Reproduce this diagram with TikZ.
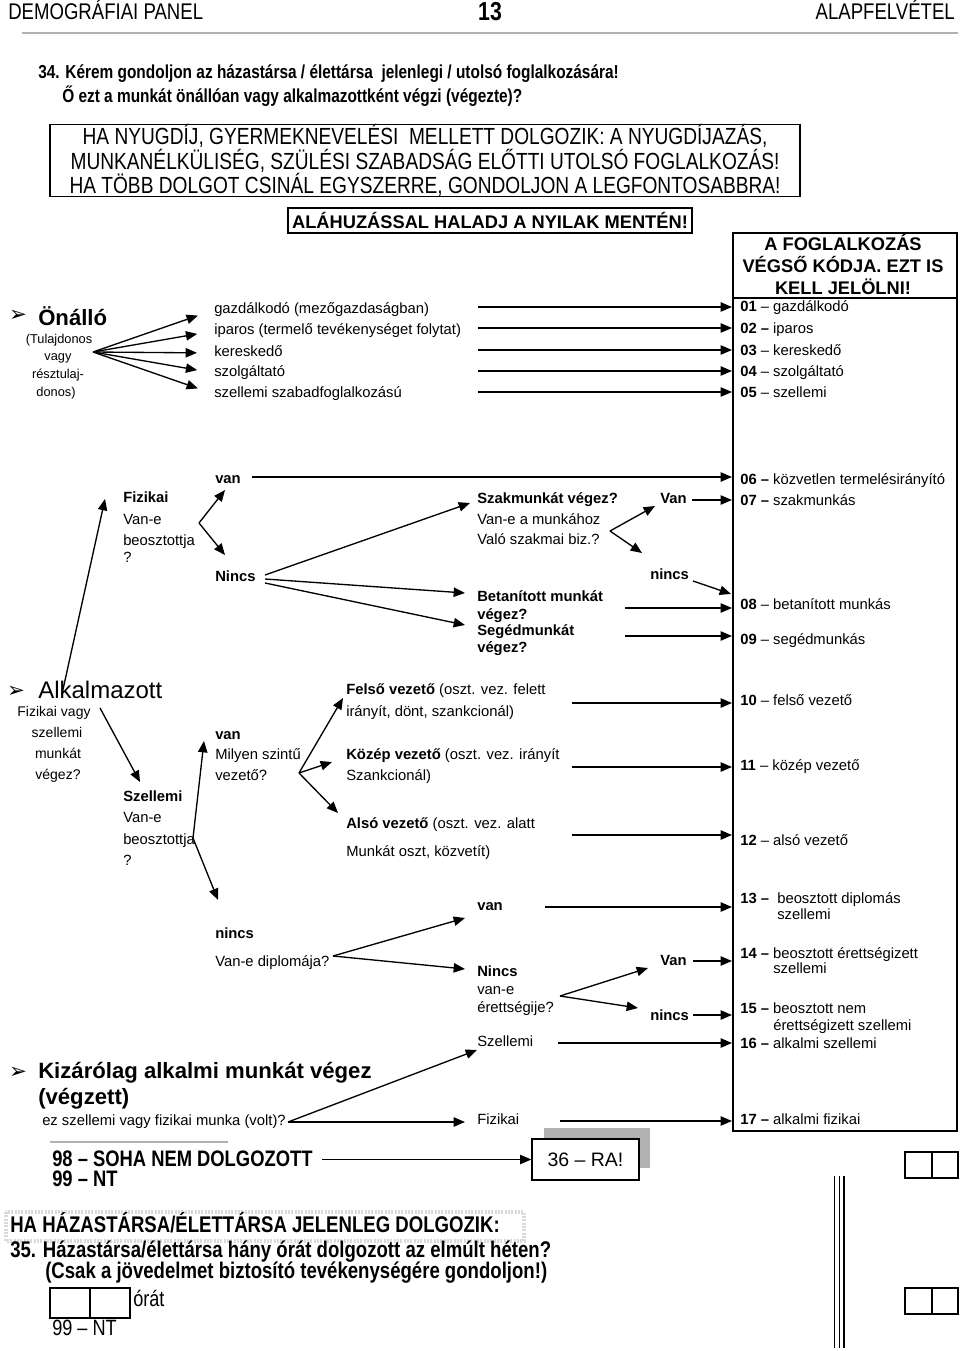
\documentclass[tikz,border=0pt]{standalone}
\usepackage{fontspec}
\setmainfont{Liberation Sans}
\newfontfamily\narrowfont[FakeStretch=0.82]{Liberation Sans}
\newfontfamily\dingfont{DejaVu Sans}
\usetikzlibrary{arrows.meta}
\tikzset{
  txt/.style={inner sep=0pt, anchor=west, text height=8pt, text depth=2.2pt, font=\fontsize{11.1}{13}\selectfont},
  btxt/.style={txt, font=\fontsize{11.1}{13}\selectfont\bfseries},
  subtxt/.style={inner sep=0pt, text height=6.9pt, text depth=1.9pt, font=\fontsize{9.6}{11}\selectfont},
  alktxt/.style={inner sep=0pt, text height=7.6pt, text depth=2.1pt, font=\fontsize{10.5}{12}\selectfont},
  bigb/.style={inner sep=0pt, anchor=west, text height=12pt, text depth=3.3pt, font=\fontsize{16.6}{19}\selectfont\bfseries},
  bullet/.style={inner sep=0pt, font=\dingfont\fontsize{16}{18}\selectfont},
  hdr/.style={inner sep=0pt, text height=12.3pt, text depth=3.4pt, font=\narrowfont\fontsize{17}{20}\selectfont},
  qtxt/.style={inner sep=0pt, anchor=west, text height=10pt, text depth=2.8pt, font=\narrowfont\fontsize{14.1}{16}\selectfont\bfseries},
  ntxt/.style={inner sep=0pt, anchor=west, text height=12pt, text depth=3.3pt, font=\narrowfont\fontsize{17}{19}\selectfont\bfseries},
  nreg/.style={ntxt, font=\narrowfont\fontsize{16.6}{19}\selectfont},
  arr/.style={-{Triangle[length=8.5pt,width=7pt]}, line width=1pt},
  frame/.style={line width=1pt}
}
\begin{document}
\begin{tikzpicture}[x=0.75pt,y=-0.75pt]
\useasboundingbox (0,0) rectangle (960,1351);
\node[hdr, anchor=west] (panel) at (8,14) {DEMOGRÁFIAI PANEL};
\node[hdr, font=\narrowfont\fontsize{19.5}{22}\selectfont\bfseries] (pagenum) at (490,15) {13};
\node[hdr, anchor=east] (wave) at (955,14) {ALAPFELVÉTEL};
\draw[gray!60, line width=.8pt] (22,33) -- (958,33);
\node[qtxt] (q34) at (38,74) {34. Kérem gondoljon az házastársa / élettársa\ \ jelenlegi / utolsó foglalkozására!};
\node[qtxt] (q34b) at (62,98) {Ő ezt a munkát önállóan vagy alkalmazottként végzi (végezte)?};
\node[draw, frame, inner sep=0pt, minimum width=562.5pt, minimum height=48.75pt, align=center, font=\narrowfont\fontsize{17.5}{17.25}\selectfont] (instr) at (425,160.5) {HA NYUGDÍJ, GYERMEKNEVELÉSI\ \ MELLETT DOLGOZIK: A NYUGDÍJAZÁS,\\MUNKANÉLKÜLISÉG, SZÜLÉSI SZABADSÁG ELŐTTI UTOLSÓ FOGLALKOZÁS!\\HA TÖBB DOLGOT CSINÁL EGYSZERRE, GONDOLJON A LEGFONTOSABBRA!};
\node[draw, line width=.8pt, inner sep=0pt, minimum width=303pt, minimum height=18.75pt, font=\fontsize{13.7}{16}\selectfont\bfseries] (hint) at (490,220.5) {ALÁHUZÁSSAL HALADJ A NYILAK MENTÉN!};

\draw[frame] (733,233) rectangle (957,1131);
\draw[frame] (733,298) -- (957,298);
\coordinate (boxL) at (732,0);
\node[align=center, inner sep=0pt, font=\fontsize{13.7}{16.5}\selectfont\bfseries] (codetitle) at (843,264) {A FOGLALKOZÁS\\VÉGSŐ KÓDJA. EZT IS\\KELL JELÖLNI!};
\node[txt] (c01) at (740,308) {\textbf{01} – gazdálkodó};
\node[txt] (c02) at (740,330) {\textbf{02 –} iparos};
\node[txt] (c03) at (740,352) {\textbf{03} – kereskedő};
\node[txt] (c04) at (740,373) {\textbf{04} – szolgáltató};
\node[txt] (c05) at (740,394) {\textbf{05} – szellemi};

\node[bullet] (bul1) at (18,316) {➢};
\node[bigb] (onallo) at (38,320) {Önálló};
\node[subtxt] (own1) at (59,340) {(Tulajdonos};
\node[subtxt] (own2) at (58,357) {vagy};
\node[subtxt] (own3) at (58,375) {résztulaj-};
\node[subtxt] (own4) at (56,393) {donos)};
\coordinate (fan) at (93,352);
\node[txt] (g1) at (214,310) {gazdálkodó (mezőgazdaságban)};
\node[txt] (g2) at (214,331) {iparos (termelő tevékenységet folytat)};
\node[txt] (g3) at (214,353) {kereskedő};
\node[txt] (g4) at (214,373) {szolgáltató};
\node[txt] (g5) at (214,394) {szellemi szabadfoglalkozású};
\draw[arr, shorten >=12.75pt] (fan) -- (g1.west);
\draw[arr, shorten >=12.75pt] (fan) -- (g2.west);
\draw[arr, shorten >=12.75pt] (fan) -- (g3.west);
\draw[arr, shorten >=12.75pt] (fan) -- (g4.west);
\draw[arr, shorten >=12.75pt] (fan) -- (g5.west);
\coordinate (h1) at (478,307);
\coordinate (h2) at (478,328);
\coordinate (h3) at (478,350);
\coordinate (h4) at (478,371);
\coordinate (h5) at (478,392);
\draw[arr] (h1) -- (h1 -| boxL);
\draw[arr] (h2) -- (h2 -| boxL);
\draw[arr] (h3) -- (h3 -| boxL);
\draw[arr] (h4) -- (h4 -| boxL);
\draw[arr] (h5) -- (h5 -| boxL);

\node[btxt] (fiz) at (123,499) {Fizikai};
\node[txt] (fizb) at (123,521) {Van-e};
\node[txt] (fizc) at (123,542) {beosztottja};
\node[txt] (fizd) at (123,559) {?};
\coordinate (alkup) at (62,694);
\coordinate (fizup) at (105,499);
\draw[arr] (alkup) -- (fizup);
\coordinate (fizv) at (199,523);
\coordinate (fizvan) at (225,490);
\coordinate (fizno) at (225,555);
\draw[arr] (fizv) -- (fizvan);
\draw[arr] (fizv) -- (fizno);
\node[btxt] (van1) at (215,480) {van};
\node[btxt] (nincs1) at (215,578) {Nincs};
\coordinate (van1s) at (252,477);
\draw[arr] (van1s) -- (van1s -| boxL);
\node[txt] (c06) at (740,481) {\textbf{06 –} közvetlen termelésirányító};
\node[txt] (c07) at (740,502) {\textbf{07 –} szakmunkás};
\coordinate (n1a) at (265,575);
\coordinate (n1b) at (265,579);
\coordinate (n1c) at (265,583);
\coordinate (szt) at (470,503);
\coordinate (bet) at (465,593);
\coordinate (seg) at (465,625);
\draw[arr] (n1a) -- (szt);
\draw[arr] (n1b) -- (bet);
\draw[arr] (n1c) -- (seg);
\node[btxt] (szak) at (477,500) {Szakmunkát végez?};
\node[txt] (szakb) at (477,521) {Van-e a munkához};
\node[txt] (szakc) at (477,541) {Való szakmai biz.?};
\coordinate (szv) at (610,531);
\coordinate (szvan) at (655,506);
\coordinate (szno) at (642,553);
\draw[arr] (szv) -- (szvan);
\draw[arr] (szv) -- (szno);
\node[btxt] (van2) at (660,500) {Van};
\coordinate (van2s) at (692,500);
\draw[arr] (van2s) -- (van2s -| boxL);
\node[btxt] (nincs2) at (650,576) {nincs};
\coordinate (nincs2s) at (693,581);
\coordinate (nincs2e) at (731,594);
\draw[arr] (nincs2s) -- (nincs2e);
\node[btxt] (bet1) at (477,598) {Betanított munkát};
\node[btxt] (bet2) at (477,616) {végez?};
\node[btxt] (seg1) at (477,632) {Segédmunkát};
\node[btxt] (seg2) at (477,649) {végez?};
\coordinate (bets) at (625,608);
\coordinate (segs) at (625,636);
\draw[arr] (bets) -- (bets -| boxL);
\draw[arr] (segs) -- (segs -| boxL);
\node[txt] (c08) at (740,606) {\textbf{08} – betanított munkás};
\node[txt] (c09) at (740,641) {\textbf{09} – segédmunkás};

\node[bullet] (bul2) at (16,692) {➢};
\node[inner sep=0pt, anchor=west, text height=13pt, text depth=3.6pt, font=\fontsize{18}{21}\selectfont] (alk) at (38,692) {Alkalmazott};
\node[alktxt] (alkb) at (54,713) {Fizikai vagy};
\node[alktxt] (alkc) at (57,734) {szellemi};
\node[alktxt] (alkd) at (58,755) {munkát};
\node[alktxt] (alke) at (58,776) {végez?};
\coordinate (alks) at (100,708);
\coordinate (szelt) at (140,782);
\draw[arr] (alks) -- (szelt);
\node[btxt] (szel) at (123,798) {Szellemi};
\node[txt] (szelb) at (123,819) {Van-e};
\node[txt] (szelc) at (123,841) {beosztottja};
\node[txt] (szeld) at (123,862) {?};
\coordinate (szelv) at (193,838);
\coordinate (szelvan) at (204,741);
\coordinate (szelno) at (218,900);
\draw[arr] (szelv) -- (szelvan);
\draw[arr] (szelv) -- (szelno);
\node[btxt] (van3) at (215,736) {van};
\node[txt] (van3b) at (215,756) {Milyen szintű};
\node[txt] (van3c) at (215,777) {vezető?};
\coordinate (vezv) at (299,773);
\coordinate (felt) at (343,698);
\coordinate (kozt) at (332,762);
\coordinate (alst) at (338,813);
\draw[arr] (vezv) -- (felt);
\draw[arr] (vezv) -- (kozt);
\draw[arr] (vezv) -- (alst);
\node[txt] (fel1) at (346,691) {\textbf{Felső vezető} (oszt. vez. felett};
\node[txt] (fel2) at (346,713) {irányít, dönt, szankcionál)};
\node[txt] (koz1) at (346,756) {\textbf{Közép vezető} (oszt. vez. irányít};
\node[txt] (koz2) at (346,777) {Szankcionál)};
\node[txt] (als1) at (346,825) {\textbf{Alsó vezető} (oszt. vez. alatt};
\node[txt] (als2) at (346,853) {Munkát oszt, közvetít)};
\coordinate (fels) at (572,703);
\coordinate (kozs) at (572,767);
\coordinate (alss) at (572,835);
\draw[arr] (fels) -- (fels -| boxL);
\draw[arr] (kozs) -- (kozs -| boxL);
\draw[arr] (alss) -- (alss -| boxL);
\node[txt] (c10) at (740,702) {\textbf{10} – felső vezető};
\node[txt] (c11) at (740,767) {\textbf{11} – közép vezető};
\node[txt] (c12) at (740,842) {\textbf{12} – alsó vezető};

\node[btxt] (nincs3) at (215,935) {nincs};
\node[txt] (nincs3b) at (215,963) {Van-e diplomája?};
\coordinate (dipv) at (333,956);
\coordinate (dipvan) at (465,918);
\coordinate (dipno) at (465,969);
\draw[arr] (dipv) -- (dipvan);
\draw[arr] (dipv) -- (dipno);
\node[btxt] (van4) at (477,907) {van};
\coordinate (van4s) at (545,907);
\draw[arr] (van4s) -- (van4s -| boxL);
\node[btxt] (nincs4) at (477,973) {Nincs};
\node[txt] (nincs4b) at (477,991) {van-e};
\node[txt] (nincs4c) at (477,1009) {érettségije?};
\coordinate (erv) at (560,996);
\coordinate (ervan) at (648,968);
\coordinate (erno) at (638,1008);
\draw[arr] (erv) -- (ervan);
\draw[arr] (erv) -- (erno);
\node[btxt] (van5) at (660,962) {Van};
\coordinate (van5s) at (693,961);
\draw[arr] (van5s) -- (van5s -| boxL);
\node[btxt] (nincs5) at (650,1017) {nincs};
\coordinate (nincs5s) at (693,1015);
\draw[arr] (nincs5s) -- (nincs5s -| boxL);
\node[txt] (alsz) at (477,1043) {Szellemi};
\coordinate (alszs) at (558,1043);
\draw[arr] (alszs) -- (alszs -| boxL);
\node[txt] (alfi) at (477,1121) {Fizikai};
\coordinate (alfis) at (560,1121);
\draw[arr] (alfis) -- (alfis -| boxL);
\node[txt] (c13) at (740,900) {\textbf{13 –}\ \ beosztott diplomás};
\node[txt] (c13b) at (777,916) {szellemi};
\node[txt] (c14) at (740,955) {\textbf{14 –} beosztott érettségizett};
\node[txt] (c14b) at (773,970) {szellemi};
\node[txt] (c15) at (740,1010) {\textbf{15 –} beosztott nem};
\node[txt] (c15b) at (773,1027) {érettségizett szellemi};
\node[txt] (c16) at (740,1045) {\textbf{16 –} alkalmi szellemi};
\node[txt] (c17) at (740,1121) {\textbf{17 –} alkalmi fizikai};

\node[bullet] (bul3) at (18,1073) {➢};
\node[bigb] (kiz) at (38,1073) {Kizárólag alkalmi munkát végez};
\node[bigb] (kizb) at (38,1099) {(végzett)};
\node[txt] (kizc) at (42,1122) {ez szellemi vagy fizikai munka (volt)?};
\coordinate (kizv) at (288,1122);
\coordinate (kizsz) at (477,1050);
\coordinate (kizfi) at (465,1122);
\draw[arr] (kizv) -- (kizsz);
\draw[arr] (kizv) -- (kizfi);

\draw[gray!60, line width=.8pt] (50,1142) -- (228,1142);
\node[ntxt, font=\narrowfont\fontsize{16.8}{19}\selectfont\bfseries] (never) at (52,1161) {98 – SOHA NEM DOLGOZOTT};
\node[ntxt, font=\narrowfont\fontsize{16.8}{19}\selectfont\bfseries] (nt1) at (52,1181) {99 – NT};
\fill[gray!60] (544,1128) rectangle (650,1168);
\node[draw, frame, fill=white, inner sep=0pt, minimum width=80.25pt, minimum height=30.75pt, font=\fontsize{14.6}{17}\selectfont] (ra) at (585.5,1159.5) {36 – RA!};
\coordinate (nevers) at (322,1159.5);
\draw[arr] (nevers) -- (ra.west);

\draw[gray!30, line width=3pt, dash pattern=on 1.5pt off 1pt] (6,1212) rectangle (524,1241);
\node[ntxt] (hazas) at (10,1227) {HA HÁZASTÁRSA/ÉLETTÁRSA JELENLEG DOLGOZIK:};
\node[ntxt] (q35) at (10,1252) {35. Házastársa/élettársa hány órát dolgozott az elmúlt héten?};
\node[ntxt] (q35b) at (45,1273) {(Csak a jövedelmet biztosító tevékenységére gondoljon!)};
\draw[frame] (50,1288) rectangle (130,1318);
\draw[frame] (90,1288) -- (90,1318);
\node[nreg] (ora) at (133,1301) {órát};
\node[nreg] (nt2) at (52,1330) {99 – NT};

\draw[line width=1.2pt] (834.5,1176) -- (834.5,1348);
\draw[line width=1.2pt] (839.5,1176) -- (839.5,1348);
\draw[line width=1.2pt] (844,1176) -- (844,1348);
\draw[frame] (905,1152) rectangle (958,1178);
\draw[frame] (932,1152) -- (932,1178);
\draw[frame] (905,1288) rectangle (958,1314);
\draw[frame] (932,1288) -- (932,1314);
\end{tikzpicture}
\end{document}
